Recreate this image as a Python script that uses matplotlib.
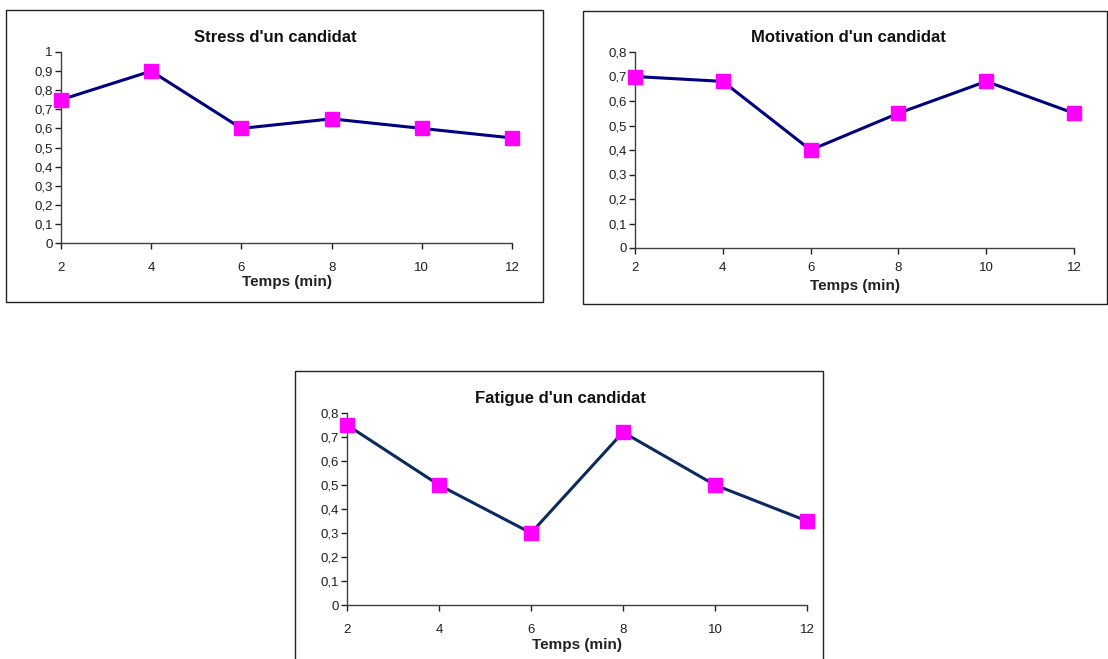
import matplotlib
matplotlib.use("Agg")
import matplotlib.pyplot as plt
from matplotlib.patches import Rectangle
import numpy as np

plt.rcParams['font.family'] = ['Liberation Sans', 'DejaVu Sans']

temps = [2, 4, 6, 8, 10, 12]
stress = [0.75, 0.9, 0.6, 0.65, 0.6, 0.55]
motivation = [0.7, 0.68, 0.4, 0.55, 0.68, 0.55]
fatigue = [0.75, 0.5, 0.3, 0.72, 0.5, 0.35]

titles = ["Stress d'un candidat", "Motivation d'un candidat", "Fatigue d'un candidat"]
series = [stress, motivation, fatigue]
ymaxs = [1.0, 0.8, 0.8]
line_colors = ["#000080", "#000080", "#0b2a5e"]

W, H = 1108, 659
# pixel layouts: axes (left, right, y0 pixel, ytop pixel), box, title y
axes_px = [(61, 512, 243, 52), (635, 1074, 248, 52), (347, 807, 605, 413)]
boxes_px = [(6, 10, 543, 302), (583, 11, 1107, 304), (295, 371, 823, 662)]
title_px = [(275, 38), (848, 38), (560, 398)]
xlabel_px = [282, 286, 645]
xpads = [10, 6, 10]

fig = plt.figure(figsize=(W / 100, H / 100), dpi=100)

for i in range(3):
    x0, x1, yb, yt = axes_px[i]
    ax = fig.add_axes([x0 / W, 1 - yb / H, (x1 - x0) / W, (yb - yt) / H])
    ax.plot(temps, series[i], color=line_colors[i], lw=2.2, marker='s',
            markersize=10, markerfacecolor='#ff00ff', markeredgecolor='#ff00ff',
            clip_on=False, zorder=3)
    ax.set_xlim(2, 12)
    ax.set_ylim(0, ymaxs[i])
    ax.set_xticks(temps)
    ax.set_yticks(np.arange(0, ymaxs[i] + 0.01, 0.1))
    ax.set_yticklabels([('%g' % v).replace('.', ',') for v in np.arange(0, ymaxs[i] + 0.01, 0.1)])
    for s in ['top', 'right']:
        ax.spines[s].set_visible(False)
    for s in ['left', 'bottom']:
        ax.spines[s].set_color('#404040')
        ax.spines[s].set_linewidth(1)
    ax.tick_params(axis='both', labelsize=9.5, colors='#202020', length=4, width=1)
    ax.tick_params(axis='x', pad=xpads[i])
    ax.tick_params(axis='y', pad=2)

    bx0, by0, bx1, by1 = boxes_px[i]
    fig.patches.append(Rectangle((bx0 / W, 1 - by1 / H), (bx1 - bx0) / W, (by1 - by0) / H,
                                 transform=fig.transFigure, fill=False,
                                 edgecolor='#222222', lw=1))
    tx, ty = title_px[i]
    fig.text(tx / W, 1 - ty / H, titles[i], ha='center', va='center',
             fontsize=12, fontweight='bold', color='#111111')
    fig.text((x0 + x1) / 2 / W, 1 - xlabel_px[i] / H, "Temps (min)", ha='center',
             va='center', fontsize=11, fontweight='bold', color='#222222')

fig.savefig("out.png", dpi=100)
